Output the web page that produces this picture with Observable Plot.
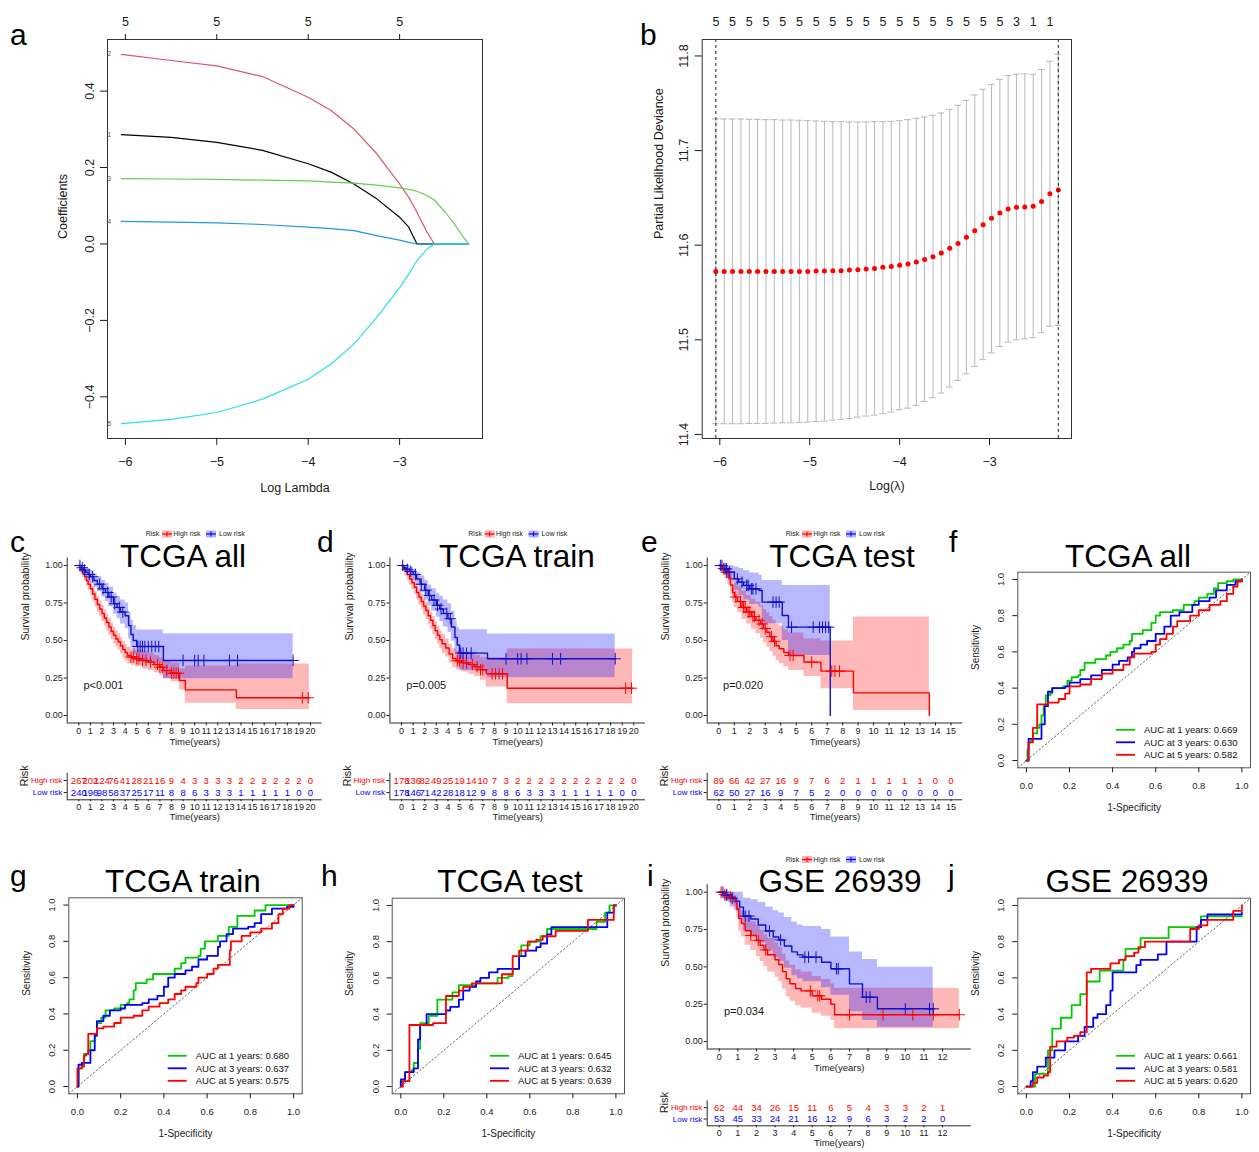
<!DOCTYPE html>
<html><head><meta charset="utf-8">
<script src="https://cdn.jsdelivr.net/npm/d3@7"></script>
<script src="https://cdn.jsdelivr.net/npm/@observablehq/plot@0.6"></script>
<style>
html,body{margin:0;padding:0;background:#fff;}
#fig{position:relative;width:1259px;height:1152px;overflow:hidden;background:#fff;font-family:"Liberation Sans",Arial,Helvetica,sans-serif;}
#fig svg{position:absolute;background:transparent;}
</style></head><body><div id="fig"></div>
<script>
// ---------------- DATA ----------------
// Panel a: LASSO coefficient paths (log lambda grid and coefficient values)
const lamA = [-6.044,-5.5,-5,-4.5,-4,-3.75,-3.5,-3.25,-3,-2.9,-2.81,-2.7,-2.62,-2.5,-2.4,-2.3,-2.245];
const coefA1 = [0.286,0.279,0.266,0.245,0.21,0.188,0.157,0.118,0.07,0.044,0,0,0,0,0,0,0];
const coefA2 = [0.496,0.48,0.466,0.438,0.384,0.349,0.301,0.236,0.157,0.122,0.083,0.031,0,0,0,0,0];
const coefA3 = [0.171,0.170,0.169,0.167,0.165,0.162,0.159,0.154,0.147,0.143,0.138,0.127,0.115,0.083,0.052,0.017,0];
const coefA4 = [0.059,0.057,0.055,0.051,0.044,0.04,0.035,0.022,0.010,0.004,0,0,0,0,0,0,0];
const coefA5 = [-0.470,-0.459,-0.441,-0.406,-0.354,-0.314,-0.262,-0.192,-0.114,-0.079,-0.044,-0.013,0,0,0,0,0];
const topAtA = [-6,-5,-4,-3];
const topDfA = [5,5,5,5];

// Panel b: cross-validation curve
const lamB = [-6.044,-5.951,-5.858,-5.765,-5.672,-5.580,-5.487,-5.394,-5.301,-5.208,-5.115,-5.022,-4.929,-4.836,-4.743,-4.651,-4.558,-4.465,-4.372,-4.279,-4.186,-4.093,-4.000,-3.907,-3.814,-3.722,-3.629,-3.536,-3.443,-3.350,-3.257,-3.164,-3.071,-2.978,-2.885,-2.793,-2.700,-2.607,-2.514,-2.421,-2.328,-2.235];
const cvmB = [11.5723,11.5723,11.5723,11.5723,11.5723,11.5723,11.5723,11.5723,11.5723,11.5723,11.5723,11.5723,11.5726,11.5726,11.573,11.573,11.5737,11.574,11.5748,11.5755,11.5766,11.5776,11.5787,11.5801,11.5822,11.585,11.5878,11.5917,11.5967,11.6019,11.6083,11.6153,11.6217,11.6284,11.634,11.6382,11.64,11.6404,11.6411,11.6463,11.6544,11.6583];
const cvupB = [11.7334,11.7334,11.7334,11.7334,11.733,11.733,11.7327,11.7327,11.7323,11.7323,11.732,11.7316,11.7313,11.7309,11.7306,11.7306,11.7302,11.7302,11.7302,11.7306,11.7306,11.7309,11.7316,11.7327,11.7341,11.7355,11.7373,11.7397,11.7436,11.7478,11.7531,11.7588,11.7648,11.77,11.7753,11.7792,11.7806,11.781,11.7806,11.7856,11.7944,11.8018];
const cvloB = [11.4113,11.4113,11.4113,11.4113,11.4116,11.4116,11.4116,11.412,11.4123,11.4123,11.4127,11.413,11.4137,11.4141,11.4152,11.4159,11.4169,11.4183,11.4194,11.4204,11.4219,11.4236,11.4261,11.4278,11.4307,11.4349,11.4388,11.4437,11.4501,11.4571,11.4641,11.4719,11.479,11.4862,11.493,11.4976,11.5001,11.5011,11.5022,11.5075,11.5145,11.5152];
const nzB = [5,5,5,5,5,5,5,5,5,5,5,5,5,5,5,5,5,5,3,1,1];
const lambdaMinB = -6.044, lambda1seB = -2.235;

// KM curves: rows [time, survival, lower CI, upper CI]
const cHigh = [[0,1,1,1],[0.1,0.985,0.97,1],[0.2,0.965,0.945,0.99],[0.35,0.945,0.92,0.975],[0.5,0.925,0.895,0.96],[0.65,0.9,0.865,0.94],[0.8,0.875,0.835,0.92],[1.0,0.845,0.8,0.89],[1.2,0.81,0.76,0.86],[1.4,0.775,0.725,0.825],[1.6,0.74,0.69,0.79],[1.8,0.71,0.66,0.765],[2.0,0.68,0.625,0.735],[2.2,0.65,0.595,0.705],[2.4,0.62,0.565,0.675],[2.6,0.59,0.535,0.645],[2.8,0.56,0.505,0.615],[3.0,0.535,0.48,0.59],[3.2,0.51,0.455,0.565],[3.4,0.49,0.435,0.545],[3.6,0.465,0.41,0.52],[3.8,0.44,0.385,0.495],[4.0,0.42,0.365,0.475],[4.2,0.40,0.345,0.455],[4.5,0.39,0.335,0.445],[4.9,0.378,0.325,0.435],[5.5,0.367,0.31,0.425],[6.0,0.356,0.3,0.415],[6.5,0.34,0.285,0.40],[7.0,0.322,0.265,0.385],[7.3,0.30,0.245,0.365],[8.0,0.282,0.225,0.35],[8.7,0.233,0.17,0.31],[9.2,0.171,0.082,0.33],[13.6,0.118,0.04,0.344],[19.9,0.118,0.04,0.344]];
const cLow = [[0,1,1,1],[0.2,0.985,0.97,1],[0.4,0.97,0.945,0.995],[0.6,0.955,0.925,0.985],[0.8,0.94,0.905,0.975],[1.0,0.925,0.885,0.965],[1.3,0.9,0.855,0.945],[1.6,0.875,0.825,0.925],[2.0,0.845,0.79,0.9],[2.3,0.82,0.76,0.88],[2.6,0.79,0.725,0.855],[3.0,0.745,0.675,0.815],[3.3,0.72,0.645,0.795],[3.6,0.69,0.61,0.77],[4.0,0.665,0.58,0.75],[4.3,0.6,0.51,0.69],[4.5,0.54,0.45,0.635],[4.7,0.5,0.405,0.6],[5.0,0.46,0.355,0.57],[7.3,0.367,0.245,0.545],[18.5,0.367,0.245,0.545]];
const cHighCens = [4.5,4.7,5.0,5.2,5.5,5.8,6.2,6.8,7.0,7.2,7.6,8.0,8.2,8.4,8.6,19.3,19.8];
const cLowCens = [0.1,0.3,0.5,0.9,1.2,1.8,2.1,2.5,2.8,3.1,3.5,3.8,5.1,5.3,5.5,5.7,6.0,6.3,6.6,6.9,9.0,10.0,10.3,10.8,13.0,13.7,18.5];
const cHighN = [267,202,124,76,41,28,21,16,9,4,3,3,3,3,2,2,2,2,2,2,0];
const cLowN = [240,196,98,58,37,25,17,11,8,8,6,3,3,3,1,1,1,1,1,0,0];

const dHigh = [[0,1,1,1],[0.15,0.98,0.96,1],[0.3,0.96,0.93,0.99],[0.5,0.94,0.9,0.975],[0.7,0.91,0.87,0.95],[0.9,0.885,0.84,0.93],[1.1,0.855,0.805,0.905],[1.3,0.82,0.77,0.87],[1.5,0.79,0.735,0.84],[1.7,0.76,0.705,0.81],[1.9,0.73,0.67,0.785],[2.1,0.7,0.64,0.755],[2.3,0.665,0.605,0.72],[2.5,0.635,0.575,0.69],[2.7,0.6,0.54,0.66],[2.9,0.565,0.505,0.625],[3.1,0.535,0.475,0.595],[3.3,0.505,0.445,0.565],[3.5,0.478,0.415,0.54],[3.8,0.45,0.39,0.51],[4.1,0.41,0.35,0.475],[4.4,0.38,0.32,0.445],[4.7,0.365,0.305,0.43],[5.2,0.352,0.29,0.42],[5.8,0.34,0.275,0.41],[6.3,0.325,0.26,0.4],[6.8,0.305,0.235,0.385],[7.3,0.278,0.19,0.385],[9.1,0.182,0.078,0.444],[19.9,0.182,0.078,0.444]];
const dLow = [[0,1,1,1],[0.2,0.985,0.97,1],[0.4,0.975,0.95,1],[0.7,0.96,0.93,0.99],[1.0,0.94,0.905,0.975],[1.3,0.91,0.865,0.955],[1.6,0.875,0.82,0.93],[2.0,0.835,0.77,0.9],[2.3,0.8,0.73,0.87],[2.6,0.77,0.695,0.845],[3.0,0.735,0.655,0.815],[3.3,0.71,0.625,0.795],[3.6,0.68,0.59,0.77],[4.0,0.645,0.555,0.745],[4.3,0.59,0.495,0.695],[4.6,0.52,0.42,0.63],[4.8,0.47,0.37,0.585],[5.0,0.416,0.3,0.571],[7.4,0.378,0.251,0.544],[18.4,0.378,0.251,0.544]];
const dHighCens = [4.8,5.0,5.3,5.6,6.1,6.5,6.8,7.0,7.8,8.1,8.4,8.7,19.3,19.8];
const dLowCens = [0.1,0.5,0.8,1.2,1.7,2.1,2.4,2.8,3.1,3.4,3.9,4.2,5.1,5.3,5.6,6.0,9.0,10.0,10.3,10.8,13.0,13.7,18.4];
const dHighN = [178,136,82,49,25,19,14,10,7,3,2,2,2,2,2,2,2,2,2,2,0];
const dLowN = [178,146,71,42,28,18,12,9,8,8,6,3,3,3,1,1,1,1,1,0,0];

const eHigh = [[0,1,1,1],[0.2,0.98,0.95,1],[0.4,0.955,0.915,1],[0.6,0.92,0.87,0.99],[0.75,0.87,0.81,0.95],[0.9,0.82,0.75,0.91],[1.0,0.79,0.72,0.885],[1.2,0.76,0.685,0.86],[1.5,0.72,0.64,0.83],[1.8,0.69,0.61,0.8],[2.1,0.66,0.575,0.775],[2.4,0.635,0.545,0.755],[2.7,0.61,0.515,0.73],[2.9,0.58,0.485,0.705],[3.1,0.555,0.455,0.685],[3.3,0.525,0.425,0.66],[3.5,0.495,0.395,0.635],[3.7,0.465,0.365,0.61],[3.9,0.445,0.345,0.595],[4.2,0.42,0.325,0.57],[4.5,0.4,0.3,0.55],[5.5,0.356,0.26,0.51],[6.6,0.296,0.178,0.496],[8.7,0.151,0.033,0.656],[13.6,0,0.033,0.656]];
const eLow = [[0,1,1,1],[0.3,0.978,0.94,1],[0.6,0.956,0.9,1],[1.0,0.911,0.833,0.99],[1.3,0.889,0.8,0.98],[1.6,0.867,0.77,0.965],[2.0,0.844,0.74,0.95],[2.6,0.833,0.722,0.935],[2.8,0.756,0.611,0.9],[4.1,0.667,0.5,0.867],[4.5,0.589,0.4,0.867],[7.2,0,0.4,0.867]];
const eHighCens = [0.3,0.5,1.1,1.4,1.6,1.7,1.9,2.0,2.2,2.3,2.6,2.8,3.0,3.4,3.6,4.6,4.8,6.0,7.3,7.5,7.8];
const eLowCens = [0.1,0.2,0.4,0.5,0.7,1.2,1.5,1.8,1.9,2.1,2.2,2.4,3.5,3.7,3.9,4.7,6.1,6.5,6.7,6.9,7.1];
const eHighN = [89,66,42,27,16,9,7,6,2,1,1,1,1,1,0,0];
const eLowN = [62,50,27,16,9,7,5,2,0,0,0,0,0,0,0,0];

const iHigh = [[0,1,1,1],[0.2,0.984,0.95,1],[0.5,0.968,0.93,1],[0.8,0.935,0.88,0.98],[0.95,0.887,0.82,0.95],[1.05,0.823,0.74,0.9],[1.2,0.79,0.7,0.87],[1.4,0.742,0.645,0.83],[1.7,0.71,0.61,0.8],[2.0,0.677,0.57,0.775],[2.2,0.645,0.535,0.745],[2.4,0.613,0.5,0.715],[2.6,0.581,0.465,0.69],[3.0,0.548,0.43,0.66],[3.2,0.516,0.4,0.63],[3.4,0.468,0.35,0.585],[3.6,0.42,0.3,0.54],[3.8,0.387,0.27,0.51],[4.1,0.355,0.24,0.48],[4.4,0.339,0.225,0.465],[5.0,0.306,0.19,0.435],[5.5,0.283,0.17,0.415],[6.0,0.25,0.14,0.385],[6.2,0.179,0.085,0.357],[12.9,0.179,0.085,0.357]];
const iLow = [[0,1,1,1],[0.3,0.98,0.94,1],[0.6,0.96,0.9,1],[0.9,0.94,0.87,1],[1.1,0.9,0.82,1],[1.3,0.84,0.74,0.96],[1.7,0.82,0.71,0.95],[2.1,0.78,0.66,0.93],[2.5,0.74,0.615,0.9],[2.9,0.7,0.56,0.875],[3.2,0.68,0.535,0.86],[3.5,0.64,0.49,0.83],[3.9,0.6,0.44,0.8],[4.2,0.58,0.42,0.78],[4.5,0.565,0.4,0.77],[5.5,0.531,0.36,0.75],[6.0,0.487,0.31,0.7],[7.0,0.386,0.2,0.6],[7.7,0.297,0.14,0.55],[8.5,0.219,0.096,0.498],[11.5,0.219,0.096,0.498]];
const iHighCens = [0.1,0.3,0.4,0.6,1.7,2.1,2.5,4.9,5.3,5.4,7.0,8.8,10.4,11.5,12.9];
const iLowCens = [0.2,0.4,0.7,1.4,1.6,2.7,3.3,4.6,4.8,5.2,6.3,6.4,7.9,8.1,10.0,11.3,11.5];
const iHighN = [62,44,34,26,15,11,6,5,4,3,3,2,1];
const iLowN = [53,45,33,24,21,16,12,9,6,3,2,2,0];

const ticks20 = [0,1,2,3,4,5,6,7,8,9,10,11,12,13,14,15,16,17,18,19,20];
const ticks15 = [0,1,2,3,4,5,6,7,8,9,10,11,12,13,14,15];
const ticks12 = [0,1,2,3,4,5,6,7,8,9,10,11,12];
const kmYTicks = [0,0.25,0.5,0.75,1];
const pvals = {c: "p<0.001", d: "p=0.005", e: "p=0.020", i: "p=0.034"};

// ROC curves: [1-specificity, sensitivity]
const rocF1 = [[0,0],[0.005,0.06],[0.01,0.1],[0.02,0.11],[0.03,0.15],[0.05,0.18],[0.06,0.2],[0.07,0.25],[0.08,0.3],[0.09,0.36],[0.11,0.37],[0.12,0.4],[0.17,0.41],[0.19,0.44],[0.21,0.46],[0.24,0.47],[0.25,0.5],[0.27,0.54],[0.32,0.56],[0.37,0.58],[0.39,0.6],[0.42,0.62],[0.45,0.64],[0.48,0.66],[0.49,0.7],[0.54,0.72],[0.58,0.76],[0.6,0.8],[0.62,0.82],[0.68,0.83],[0.73,0.86],[0.78,0.88],[0.8,0.9],[0.84,0.92],[0.87,0.95],[0.89,0.98],[0.93,0.99],[0.96,1],[1,1]];
const rocF3 = [[0,0],[0.01,0.12],[0.07,0.2],[0.085,0.3],[0.1,0.38],[0.12,0.4],[0.18,0.41],[0.2,0.43],[0.25,0.45],[0.3,0.47],[0.35,0.5],[0.4,0.53],[0.43,0.55],[0.47,0.57],[0.49,0.6],[0.5,0.62],[0.53,0.64],[0.56,0.66],[0.6,0.7],[0.64,0.74],[0.67,0.8],[0.71,0.82],[0.77,0.86],[0.8,0.88],[0.85,0.9],[0.88,0.94],[0.93,0.97],[0.97,0.99],[1,1]];
const rocF5 = [[0,0],[0.01,0.1],[0.03,0.18],[0.05,0.31],[0.1,0.32],[0.15,0.34],[0.18,0.37],[0.2,0.41],[0.25,0.42],[0.3,0.45],[0.35,0.48],[0.4,0.5],[0.45,0.53],[0.48,0.57],[0.5,0.59],[0.58,0.6],[0.6,0.64],[0.62,0.67],[0.65,0.7],[0.68,0.74],[0.7,0.77],[0.76,0.8],[0.8,0.83],[0.85,0.86],[0.9,0.88],[0.93,0.92],[0.96,0.96],[0.98,0.99],[1,1]];
const rocG1 = [[0,0],[0.005,0.1],[0.02,0.12],[0.03,0.18],[0.05,0.2],[0.06,0.25],[0.08,0.29],[0.09,0.35],[0.11,0.38],[0.13,0.42],[0.17,0.43],[0.2,0.45],[0.23,0.46],[0.24,0.48],[0.26,0.53],[0.27,0.57],[0.32,0.59],[0.35,0.62],[0.45,0.65],[0.48,0.68],[0.5,0.71],[0.56,0.72],[0.57,0.76],[0.59,0.8],[0.65,0.83],[0.7,0.88],[0.74,0.94],[0.82,0.97],[0.87,1],[1,1]];
const rocG3 = [[0,0],[0.005,0.12],[0.02,0.13],[0.06,0.2],[0.08,0.28],[0.09,0.36],[0.12,0.39],[0.15,0.42],[0.2,0.43],[0.22,0.45],[0.3,0.46],[0.33,0.48],[0.37,0.5],[0.4,0.55],[0.42,0.6],[0.45,0.62],[0.5,0.64],[0.53,0.66],[0.56,0.7],[0.6,0.72],[0.65,0.77],[0.66,0.8],[0.69,0.84],[0.72,0.87],[0.79,0.88],[0.82,0.9],[0.85,0.95],[0.9,0.98],[0.97,0.99],[1,1]];
const rocG5 = [[0,0],[0,0.1],[0.02,0.11],[0.03,0.17],[0.04,0.18],[0.05,0.29],[0.09,0.32],[0.12,0.33],[0.17,0.35],[0.2,0.38],[0.26,0.39],[0.3,0.42],[0.33,0.44],[0.38,0.46],[0.42,0.48],[0.45,0.51],[0.48,0.53],[0.5,0.55],[0.55,0.57],[0.56,0.6],[0.6,0.62],[0.63,0.65],[0.65,0.67],[0.705,0.75],[0.71,0.8],[0.76,0.83],[0.8,0.85],[0.85,0.87],[0.9,0.9],[0.93,0.95],[0.95,0.98],[0.98,1],[1,1]];
const rocH1 = [[0,0],[0,0.03],[0.02,0.08],[0.05,0.09],[0.06,0.13],[0.08,0.21],[0.09,0.35],[0.13,0.39],[0.17,0.48],[0.24,0.52],[0.27,0.56],[0.35,0.57],[0.45,0.6],[0.5,0.61],[0.52,0.65],[0.55,0.72],[0.56,0.78],[0.6,0.8],[0.65,0.83],[0.68,0.87],[0.91,0.91],[0.95,0.96],[0.97,1],[1,1]];
const rocH3 = [[0,0],[0,0.04],[0.02,0.08],[0.06,0.1],[0.08,0.26],[0.09,0.34],[0.12,0.4],[0.21,0.42],[0.23,0.44],[0.27,0.48],[0.29,0.53],[0.32,0.55],[0.35,0.58],[0.37,0.6],[0.41,0.63],[0.45,0.65],[0.55,0.72],[0.58,0.75],[0.63,0.77],[0.65,0.79],[0.68,0.84],[0.7,0.88],[0.96,0.96],[0.99,1],[1,1]];
const rocH5 = [[0,0],[0.01,0.03],[0.04,0.34],[0.15,0.35],[0.21,0.5],[0.27,0.53],[0.29,0.55],[0.33,0.57],[0.47,0.62],[0.52,0.72],[0.55,0.75],[0.59,0.8],[0.63,0.81],[0.66,0.83],[0.72,0.86],[0.87,0.92],[0.99,1],[1,1]];
const rocJ1 = [[0,0],[0.04,0.07],[0.1,0.2],[0.12,0.32],[0.16,0.38],[0.21,0.45],[0.25,0.51],[0.28,0.58],[0.34,0.64],[0.45,0.7],[0.46,0.76],[0.53,0.82],[0.66,0.88],[0.81,0.94],[1,0.94]];
const rocJ3 = [[0,0],[0.02,0.03],[0.03,0.08],[0.05,0.11],[0.09,0.16],[0.13,0.2],[0.18,0.25],[0.24,0.28],[0.27,0.33],[0.31,0.38],[0.33,0.4],[0.37,0.45],[0.39,0.53],[0.4,0.63],[0.51,0.67],[0.53,0.7],[0.61,0.73],[0.65,0.8],[0.79,0.88],[0.81,0.92],[0.84,0.95],[1,0.96]];
const rocJ5 = [[0,0],[0.03,0.02],[0.05,0.05],[0.08,0.06],[0.1,0.08],[0.11,0.22],[0.14,0.25],[0.19,0.27],[0.22,0.28],[0.25,0.3],[0.28,0.63],[0.3,0.65],[0.39,0.68],[0.43,0.7],[0.46,0.72],[0.5,0.74],[0.52,0.77],[0.55,0.8],[0.76,0.87],[0.8,0.89],[0.84,0.92],[0.96,0.97],[1,1]];
const aucYears = [1,3,5];
const aucF = [0.669,0.630,0.582];
const aucG = [0.680,0.637,0.575];
const aucH = [0.645,0.632,0.639];
const aucJ = [0.661,0.581,0.620];
const rocTicks = [0,0.2,0.4,0.6,0.8,1];
const rocLim = [-0.04,1.04];

// ---------------- STYLE / HELPERS ----------------
const RED = "#FF0000", BLUE = "#0000FF", GREEN = "#00CC00", KMBLUE = "#1010C8";
const rPal = ["#000000","#DF536B","#61D04F","#2297E6","#28E2E5"];
const FONT = "'Liberation Sans', Arial, Helvetica, sans-serif";
const fig = document.getElementById("fig");

function plotIn(box, frame, opts) {
  const [sl, st, sw, sh] = box, [fl, fr, ft, fb] = frame;
  const svg = Plot.plot(Object.assign({
    width: sw, height: sh,
    marginLeft: fl - sl, marginRight: sl + sw - fr,
    marginTop: ft - st, marginBottom: st + sh - fb
  }, opts));
  svg.style.position = "absolute";
  svg.style.left = sl + "px";
  svg.style.top = st + "px";
  svg.style.background = "transparent";
  svg.style.overflow = "visible";
  svg.style.maxWidth = "none";
  svg.style.fontFamily = FONT;
  svg.style.color = "#1a1a1a";
  fig.appendChild(svg);
  return svg;
}
const title = (s, o) => Plot.text([s], Object.assign({text: d => d}, o));

// ---------------- PANEL a ----------------
const coefA = [coefA1, coefA2, coefA3, coefA4, coefA5];
plotIn([0,0,620,500],[107,482,39,438],{
  x: {domain: [-6.196, -2.093], label: null},
  y: {domain: [-0.509, 0.535], label: null},
  marks: [
    ...coefA.map((vals, k) => Plot.line(lamA, {x: d => d, y: (d, i) => vals[i], stroke: rPal[k], strokeWidth: 1.2})),
    Plot.text(coefA, {x: () => lamA[0], y: v => v[0], text: (v, i) => String(i + 1), dx: -12, fontSize: 6.5, fill: "#555"}),
    Plot.frame({stroke: "#333"}),
    Plot.axisX([-6,-5,-4,-3], {anchor: "bottom", tickSize: 7, tickPadding: 12, fontSize: 12.5, label: null}),
    Plot.axisX(topAtA, {anchor: "top", tickSize: 6, tickFormat: () => "", label: null}),
    Plot.text(topAtA, {x: d => d, text: (d, i) => String(topDfA[i]), frameAnchor: "top", dy: -22, fontSize: 12.5}),
    Plot.axisY([-0.4,-0.2,0,0.2,0.4], {anchor: "left", tickSize: 7, tickPadding: 7, tickRotate: -90, textAnchor: "middle", lineAnchor: "bottom", fontSize: 12.5, tickFormat: d3.format(".1f"), label: null}),
    title("Coefficients", {frameAnchor: "left", dx: -45, rotate: -90, fontSize: 12.5}),
    title("Log Lambda", {frameAnchor: "bottom", dy: 53.7, fontSize: 12.5})
  ]
});

// ---------------- PANEL b ----------------
const cvB = lamB.map((l, i) => ({l, m: cvmB[i], lo: cvloB[i], up: cvupB[i]}));
const capW = 0.038;
plotIn([630,0,629,500],[701.7,1071,39,438],{
  x: {domain: [-6.196, -2.088], label: null},
  y: {domain: [11.3957, 11.8174], label: null},
  marks: [
    Plot.ruleX(cvB, {x: "l", y1: "lo", y2: "up", stroke: "#b8b8b8", strokeWidth: 1}),
    Plot.ruleY(cvB, {y: "up", x1: d => d.l - capW, x2: d => d.l + capW, stroke: "#b8b8b8", strokeWidth: 1}),
    Plot.ruleY(cvB, {y: "lo", x1: d => d.l - capW, x2: d => d.l + capW, stroke: "#b8b8b8", strokeWidth: 1}),
    Plot.dot(cvB, {x: "l", y: "m", fill: "#FF0000", r: 2.5}),
    Plot.ruleX([lambdaMinB, lambda1seB], {stroke: "#222", strokeDasharray: "3,3", strokeWidth: 1}),
    Plot.frame({stroke: "#333"}),
    Plot.axisX([-6,-5,-4,-3], {anchor: "bottom", tickSize: 7, tickPadding: 12, fontSize: 12.5, label: null}),
    Plot.text(nzB, {x: (d, i) => lamB[2 * i], text: d => String(d), frameAnchor: "top", dy: -22, fontSize: 12.5}),
    Plot.axisY([11.4,11.5,11.6,11.7,11.8], {anchor: "left", tickSize: 7, tickPadding: 7, tickRotate: -90, textAnchor: "middle", lineAnchor: "bottom", fontSize: 12.5, tickFormat: d3.format(".1f"), label: null}),
    title("Partial Likelihood Deviance", {frameAnchor: "left", dx: -43.7, rotate: -90, fontSize: 12.5}),
    title("Log(\u03bb)", {frameAnchor: "bottom", dy: 51, fontSize: 12.5})
  ]
});

// ---------------- KM panels ----------------
const toRows = a => a.map(r => ({t: r[0], s: r[1], lo: r[2], up: r[3]}));
function survAt(rows, t) { let s = rows[0].s; for (const r of rows) { if (r.t <= t) s = r.s; else break; } return s; }

function kmMain(box, frame, yDom, xDom, ticks, high, low, hc, lc, pText, yDx) {
  const H = toRows(high), L = toRows(low);
  const tMax = Math.max(H[H.length - 1].t, L[L.length - 1].t);
  plotIn(box, frame, {
    x: {domain: xDom, label: null},
    y: {domain: yDom, label: null},
    marks: [
      Plot.areaY(H, {x: "t", y1: "lo", y2: "up", curve: "step-after", fill: RED, fillOpacity: 0.28}),
      Plot.areaY(L, {x: "t", y1: "lo", y2: "up", curve: "step-after", fill: BLUE, fillOpacity: 0.28}),
      Plot.line(H, {x: "t", y: "s", curve: "step-after", stroke: RED, strokeWidth: 1.4}),
      Plot.line(L, {x: "t", y: "s", curve: "step-after", stroke: KMBLUE, strokeWidth: 1.4}),
      Plot.dot(hc, {x: d => d, y: d => survAt(H, d), symbol: "plus", r: 3.8, stroke: RED, strokeWidth: 1}),
      Plot.dot(lc, {x: d => d, y: d => survAt(L, d), symbol: "plus", r: 3.8, stroke: KMBLUE, strokeWidth: 1}),
      Plot.ruleX([xDom[0]], {stroke: "#111", strokeWidth: 0.9}),
      Plot.ruleY([yDom[0]], {stroke: "#111", strokeWidth: 0.9}),
      Plot.axisX(ticks, {anchor: "bottom", tickSize: 3, tickPadding: 1.8, fontSize: 9, label: null}),
      Plot.axisY(kmYTicks, {anchor: "left", tickSize: 3, tickPadding: 1.5, fontSize: 9, tickFormat: d3.format(".2f"), label: null}),
      title("Time(years)", {frameAnchor: "bottom", dy: 21.5, fontSize: 9.5}),
      title("Survival probability", {frameAnchor: "left", dx: yDx, rotate: -90, fontSize: 10.5}),
      Plot.text([pText], {text: d => d, x: tMax / 50, y: 0.2, textAnchor: "start", fontSize: 11})
    ]
  });
}
const ROW = {high: 2, low: 1};
function kmTable(box, frame, xDom, ticks, highN, lowN, riskDx) {
  const hi = ticks.map((t, i) => ({t, n: highN[i]}));
  const lo = ticks.map((t, i) => ({t, n: lowN[i]}));
  plotIn(box, frame, {
    x: {domain: xDom, label: null},
    y: {domain: [0.4, 2.6], label: null},
    marks: [
      Plot.text(hi, {x: "t", y: () => ROW.high, text: d => String(d.n), fill: RED, fontSize: 9.5}),
      Plot.text(lo, {x: "t", y: () => ROW.low, text: d => String(d.n), fill: BLUE, fontSize: 9.5}),
      Plot.ruleX([xDom[0]], {stroke: "#111", strokeWidth: 0.9}),
      Plot.ruleY([0.4], {stroke: "#111", strokeWidth: 0.9}),
      Plot.axisX(ticks, {anchor: "bottom", tickSize: 2, tickPadding: 1.5, fontSize: 9, label: null}),
      Plot.axisY([ROW.low, ROW.high], {anchor: "left", tickSize: 3, tickFormat: () => "", label: null}),
      Plot.text(["High risk"], {text: d => d, y: () => ROW.high, frameAnchor: "left", dx: -5, textAnchor: "end", fill: RED, fontSize: 8}),
      Plot.text(["Low risk"], {text: d => d, y: () => ROW.low, frameAnchor: "left", dx: -5, textAnchor: "end", fill: BLUE, fontSize: 8}),
      title("Risk", {frameAnchor: "left", dx: riskDx, rotate: -90, fontSize: 11}),
      title("Time(years)", {frameAnchor: "bottom", dy: 20, fontSize: 9.5})
    ]
  });
}
const kmY = [-0.05, 1.05];
kmMain([0,540,330,210],[66.7,321.6,557.5,722.5], kmY, [-1,21], ticks20, cHigh, cLow, cHighCens, cLowCens, pvals.c, -42);
kmTable([0,765,330,60],[66.7,321.6,772.8,799.3], [-1,21], ticks20, cHighN, cLowN, -43);
kmMain([325,540,325,210],[389.4,644.9,557.5,722.5], kmY, [-1,21], ticks20, dHigh, dLow, dHighCens, dLowCens, pvals.d, -40);
kmTable([325,765,325,60],[389.4,644.9,772.8,799.3], [-1,21], ticks20, dHighN, dLowN, -42);
kmMain([640,540,330,210],[706.7,962.1,557.5,722.5], kmY, [-0.75,15.75], ticks15, eHigh, eLow, eHighCens, eLowCens, pvals.e, -42);
kmTable([640,765,330,60],[706.7,962.1,772.8,799.3], [-0.75,15.75], ticks15, eHighN, eLowN, -43);
kmMain([640,865,335,210],[706.7,970.8,884.2,1048.5], kmY, [-0.645,13.545], ticks12, iHigh, iLow, iHighCens, iLowCens, pvals.i, -42);
kmTable([640,1090,335,62],[706.7,970.8,1100.4,1125.3], [-0.645,13.545], ticks12, iHighN, iLowN, -43);

// ---------------- ROC panels ----------------
function rocPanel(box, frame, curves) {
  plotIn(box, frame, {
    x: {domain: rocLim, label: null},
    y: {domain: rocLim, label: null},
    marks: [
      Plot.line(rocLim.map(v => [v, v]), {x: d => d[0], y: d => d[1], stroke: "#666", strokeDasharray: "1.5,2.5", strokeWidth: 1}),
      ...curves.map(c => Plot.line(c.pts, {x: d => d[0], y: d => d[1], curve: "step-after", stroke: c.color, strokeWidth: 1.8})),
      Plot.frame({stroke: "#555"}),
      Plot.axisX(rocTicks, {anchor: "bottom", tickSize: 5, tickPadding: 9.5, fontSize: 9.5, tickFormat: d3.format(".1f"), label: null}),
      Plot.axisY(rocTicks, {anchor: "left", tickSize: 5, tickPadding: 8.5, tickRotate: -90, textAnchor: "middle", lineAnchor: "bottom", fontSize: 9.5, tickFormat: d3.format(".1f"), label: null}),
      title("Sensitivity", {frameAnchor: "left", dx: -42.5, rotate: -90, fontSize: 10}),
      title("1-Specificity", {frameAnchor: "bottom", dy: 42.7, fontSize: 10})
    ]
  });
}
const rocCols = [GREEN, BLUE, RED];
const rocDefs = [
  {box: [940,560,319,265], frame: [1017.3,1250,571.7,767.3], sets: [rocF1, rocF3, rocF5], auc: aucF},
  {box: [0,885,320,267], frame: [68.3,301.7,897.3,1093.3], sets: [rocG1, rocG3, rocG5], auc: aucG},
  {box: [320,885,320,267], frame: [391.7,624,897.7,1093.3], sets: [rocH1, rocH3, rocH5], auc: aucH},
  {box: [940,885,319,267], frame: [1017.3,1250,897.7,1093.3], sets: [rocJ1, rocJ3, rocJ5], auc: aucJ}
];
for (const r of rocDefs) rocPanel(r.box, r.frame, r.sets.map((pts, k) => ({pts, color: rocCols[k]})));

// ---------------- Overlay: letters, titles, legends ----------------
const ov = d3.select(fig).append("svg").attr("width", 1259).attr("height", 1152)
  .style("left", "0px").style("top", "0px").style("font-family", FONT);
function txt(s, x, y, size, anchor = "start", fill = "#000") {
  ov.append("text").attr("x", x).attr("y", y).attr("font-size", size).attr("text-anchor", anchor).attr("fill", fill).text(s);
}
[["a",10,45],["b",640,45],["c",10,552],["d",317,552],["e",641,552],["f",949,552],["g",10,886],["h",321,886],["i",647,886],["j",948,886]]
  .forEach(([s, x, y]) => txt(s, x, y, 30));
[["TCGA all",183,567],["TCGA train",517,567],["TCGA test",842,567],["TCGA all",1128,567],
 ["TCGA train",183,892],["TCGA test",510,892],["GSE 26939",840,892],["GSE 26939",1127,892]]
  .forEach(([s, x, y]) => txt(s, x, y, 31.5, "middle"));

function legendKey(x, y, color) {
  ov.append("rect").attr("x", x).attr("y", y - 3.5).attr("width", 10).attr("height", 7).attr("fill", color).attr("fill-opacity", 0.3);
  ov.append("line").attr("x1", x).attr("x2", x + 10).attr("y1", y).attr("y2", y).attr("stroke", color).attr("stroke-width", 1.2);
  ov.append("line").attr("x1", x + 5).attr("x2", x + 5).attr("y1", y - 2.5).attr("y2", y + 2.5).attr("stroke", color).attr("stroke-width", 1.1);
}
function kmLegend(x0, y) {
  txt("Risk", x0, y + 2.4, 7, "start", "#222");
  legendKey(x0 + 16.3, y, RED);
  txt("High risk", x0 + 27.6, y + 2.4, 7, "start", "#222");
  legendKey(x0 + 60.3, y, BLUE);
  txt("Low risk", x0 + 73.3, y + 2.4, 7, "start", "#222");
}
kmLegend(145.7, 534); kmLegend(468.3, 534); kmLegend(785.7, 534); kmLegend(785.7, 859.5);

for (const r of rocDefs) {
  const fr = r.frame[1], fb = r.frame[3];
  r.auc.forEach((a, k) => {
    const y = fb - 37.5 + 12.5 * k;
    ov.append("line").attr("x1", fr - 134).attr("x2", fr - 115).attr("y1", y).attr("y2", y).attr("stroke", rocCols[k]).attr("stroke-width", 1.8);
    txt(`AUC at ${aucYears[k]} years: ${d3.format(".3f")(a)}`, fr - 106, y + 3.4, 9.5, "start", "#111");
  });
}
</script></body></html>
